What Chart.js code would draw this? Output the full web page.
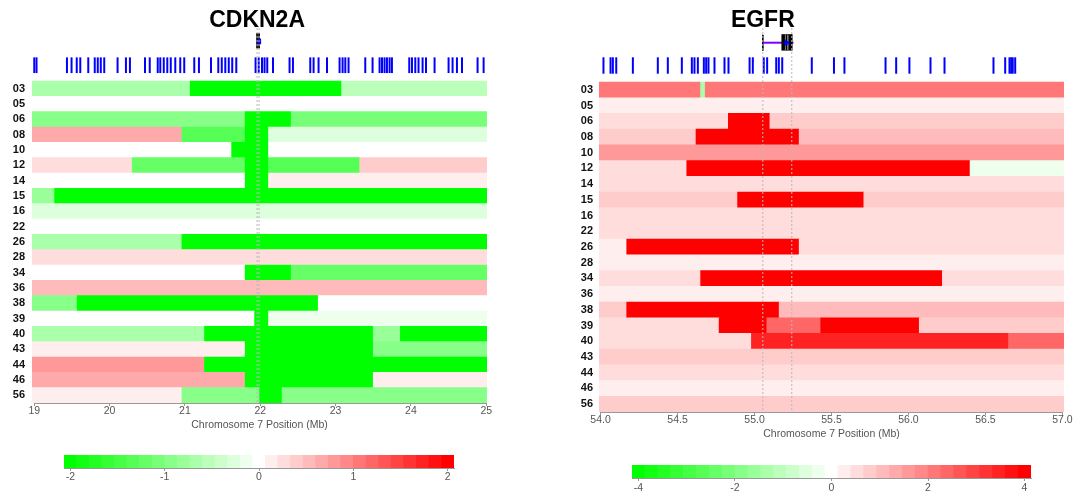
<!DOCTYPE html>
<html>
<head>
<meta charset="utf-8">
<script src="https://cdn.jsdelivr.net/npm/chart.js@4.4.1/dist/chart.umd.min.js"></script>
<style>
  html, body { margin: 0; padding: 0; background: #fff; }
  body { width: 1074px; height: 494px; position: relative; overflow: hidden; }
  canvas { position: absolute; }
</style>
</head>
<body>
<canvas id="cdknMap" width="537" height="440" style="left:0;top:0"></canvas>
<canvas id="egfrMap" width="537" height="450" style="left:537px;top:0"></canvas>
<canvas id="cdknKey" width="537" height="54" style="left:0;top:440px"></canvas>
<canvas id="egfrKey" width="537" height="44" style="left:537px;top:450px"></canvas>
<script>
// ---- data -----------------------------------------------------------------
const samples = ['03','05','06','08','10','12','14','15','16','22','26','28',
                 '34','36','38','39','40','43','44','46','56'];

// copy-number segments: [sample, start Mb, end Mb, log2 ratio]
const cdkn2aSegments = [
  ['03', 18.97, 21.07, -0.63], ['03', 21.07, 23.08, -2.1], ['03', 23.08, 25.01, -0.6],
  ['05', 18.97, 25.01, 0],
  ['06', 18.97, 21.80, -1.0], ['06', 21.80, 22.41, -2.1], ['06', 22.41, 25.01, -1.05],
  ['08', 18.97, 20.96, 0.67], ['08', 20.96, 21.80, -1.3], ['08', 21.80, 22.11, -2.1], ['08', 22.11, 25.01, -0.33],
  ['10', 18.97, 21.62, 0], ['10', 21.62, 22.11, -2.1], ['10', 22.11, 25.01, 0],
  ['12', 18.97, 20.30, 0.33], ['12', 20.30, 21.80, -1.2], ['12', 21.80, 22.11, -2.1], ['12', 22.11, 23.32, -1.4], ['12', 23.32, 25.01, 0.4],
  ['14', 18.97, 21.80, 0], ['14', 21.80, 22.11, -2.1], ['14', 22.11, 25.01, 0.1],
  ['15', 18.97, 19.27, -0.75], ['15', 19.27, 25.01, -2.1],
  ['16', 18.97, 25.01, -0.25],
  ['22', 18.97, 25.01, 0],
  ['26', 18.97, 20.96, -0.65], ['26', 20.96, 25.01, -2.1],
  ['28', 18.97, 25.01, 0.25],
  ['34', 18.97, 21.80, 0], ['34', 21.80, 22.41, -2.1], ['34', 22.41, 25.01, -1.2],
  ['36', 18.97, 25.01, 0.5],
  ['38', 18.97, 19.57, -0.87], ['38', 19.57, 22.77, -2.1], ['38', 22.77, 25.01, 0],
  ['39', 18.97, 21.925, 0], ['39', 21.925, 22.11, -2.1], ['39', 22.11, 25.01, -0.1],
  ['40', 18.97, 21.26, -0.65], ['40', 21.26, 23.50, -2.1], ['40', 23.50, 23.86, -0.8], ['40', 23.86, 25.01, -2.1],
  ['43', 18.97, 21.80, 0.17], ['43', 21.80, 23.50, -2.1], ['43', 23.50, 25.01, -0.87],
  ['44', 18.97, 21.26, 0.75], ['44', 21.26, 25.01, -2.1],
  ['46', 18.97, 21.80, 0.67], ['46', 21.80, 23.50, -2.1], ['46', 23.50, 25.01, 0.1],
  ['56', 18.97, 20.96, 0.1], ['56', 20.96, 21.99, -1.0], ['56', 21.99, 22.29, -2.1], ['56', 22.29, 25.01, -1.0]
];

const egfrSegments = [
  ['03', 53.99, 54.65, 2.13], ['03', 54.65, 54.68, -1.33], ['03', 54.68, 57.01, 2.2],
  ['05', 53.99, 57.01, 0.3],
  ['06', 53.99, 54.83, 0.6], ['06', 54.83, 55.10, 4.1], ['06', 55.10, 57.01, 0.8],
  ['08', 53.99, 54.62, 0.93], ['08', 54.62, 55.29, 4.1], ['08', 55.29, 57.01, 1.0],
  ['10', 53.99, 57.01, 1.55],
  ['12', 53.99, 54.56, 0.5], ['12', 54.56, 56.40, 4.1], ['12', 56.40, 57.01, -0.25],
  ['14', 53.99, 57.01, 0.5],
  ['15', 53.99, 54.89, 0.8], ['15', 54.89, 55.71, 4.1], ['15', 55.71, 57.01, 0.8],
  ['16', 53.99, 57.01, 0.6],
  ['22', 53.99, 57.01, 0.5],
  ['26', 53.99, 54.17, 0.2], ['26', 54.17, 55.29, 4.1], ['26', 55.29, 57.01, 0.5],
  ['28', 53.99, 57.01, 0.2],
  ['34', 53.99, 54.65, 0.6], ['34', 54.65, 56.22, 4.1], ['34', 56.22, 57.01, 0.6],
  ['36', 53.99, 57.01, 0.35],
  ['38', 53.99, 54.17, 0.8], ['38', 54.17, 55.16, 4.1], ['38', 55.16, 57.01, 1.0],
  ['39', 53.99, 54.77, 0.65], ['39', 54.77, 55.08, 4.1], ['39', 55.08, 55.43, 2.4], ['39', 55.43, 56.07, 4.1], ['39', 56.07, 57.01, 0.8],
  ['40', 53.99, 54.98, 0.65], ['40', 54.98, 56.65, 3.55], ['40', 56.65, 57.01, 2.4],
  ['43', 53.99, 57.01, 0.8],
  ['44', 53.99, 57.01, 0.65],
  ['46', 53.99, 57.01, 0.2],
  ['56', 53.99, 57.01, 0.8]
];

// gene positions (Mb) in the annotation track
const cdkn2aGenes = [
  19.000, 19.030, 19.434, 19.495, 19.564, 19.611, 19.717, 19.803, 19.843, 19.883,
  19.929, 20.106, 20.217, 20.270, 20.470, 20.533, 20.639, 20.673, 20.719, 20.766,
  20.812, 20.872, 20.938, 20.991, 21.124, 21.186, 21.346, 21.443, 21.489, 21.536,
  21.582, 21.628, 21.682, 21.938, 21.980, 22.023, 22.057, 22.093, 22.169, 22.389,
  22.434, 22.664, 22.708, 22.774, 22.886, 23.053, 23.093, 23.129, 23.172, 23.394,
  23.491, 23.584, 23.616, 23.650, 23.682, 23.717, 23.748, 23.978, 24.014, 24.058,
  24.101, 24.155, 24.200, 24.314, 24.500, 24.553, 24.611, 24.678, 24.885, 24.965
];
const egfrGenes = [
  54.019, 54.065, 54.080, 54.102, 54.210, 54.372, 54.437, 54.528, 54.593, 54.610,
  54.632, 54.671, 54.686, 54.701, 54.740, 54.805, 54.831, 54.968, 54.989, 55.060,
  55.082, 55.141, 55.158, 55.180, 55.372, 55.516, 55.584, 55.851, 55.920, 56.006,
  56.143, 56.234, 56.552, 56.628, 56.656, 56.667, 56.677, 56.693
];

// highlighted gene bounds (Mb)
const cdkn2aBounds = [21.958, 21.984];
const egfrBounds = [55.054, 55.242];
const egfrExonBlock = [55.177, 55.245];
const egfrExonGaps = [55.201, 55.216];

// axis ticks and colour keys
const cdkn2aAxisTicks = [19, 20, 21, 22, 23, 24, 25];
const egfrAxisTicks = [54.0, 54.5, 55.0, 55.5, 56.0, 56.5, 57.0];
const cdkn2aKeyTicks = [-2, -1, 0, 1, 2];
const egfrKeyTicks = [-4, -2, 0, 2, 4];
const cdkn2aKeyLimit = 2.067;
const egfrKeyLimit = 4.134;

// ---- helpers --------------------------------------------------------------
const BINS = 31, HALF = 15;
const FONT = '"Liberation Sans", Arial, Helvetica, sans-serif';
Chart.defaults.font.family = FONT;
Chart.defaults.animation = false;
Chart.defaults.events = [];

function binColor(k) {
  const c = Math.round(255 * (1 - Math.abs(k) / HALF));
  return k >= 0 ? `rgb(255,${c},${c})` : `rgb(${c},255,${c})`;
}
function valueColor(v, lim) {
  const w = 2 * lim / BINS;
  const k = Math.max(-HALF, Math.min(HALF, Math.round(v / w)));
  return binColor(k === 0 ? 0 : k);
}

const panelDecor = {
  id: 'panelDecor',
  afterDraw(chart, args, opts) {
    const { ctx, chartArea } = chart;
    const x = chart.scales.x;
    ctx.save();
    ctx.strokeStyle = '#999';
    ctx.lineWidth = 1;
    ctx.beginPath();
    ctx.moveTo(x.getPixelForValue(opts.axisFrom), chartArea.bottom + 0.5);
    ctx.lineTo(x.getPixelForValue(opts.axisTo), chartArea.bottom + 0.5);
    ctx.stroke();
    ctx.fillStyle = '#000';
    ctx.font = 'bold 23px ' + FONT;
    ctx.textAlign = 'center';
    ctx.textBaseline = 'alphabetic';
    ctx.fillText(opts.title, x.getPixelForValue(opts.titleAt), 26.5);
    ctx.restore();
  }
};

function vline(xv, y0, y1, color, width, dash, order) {
  return {
    type: 'line', data: [{ x: xv, y: y0 }, { x: xv, y: y1 }],
    borderColor: color, borderWidth: width, borderDash: dash || [],
    pointRadius: 0, fill: false, order
  };
}

function buildPanel(id, cfg) {
  const datasets = [];
  datasets.push({
    type: 'bar',
    data: cfg.segments.map(s => ({ x: [s[1], s[2]], y: samples.indexOf(s[0]) })),
    backgroundColor: cfg.segments.map(s => valueColor(s[3], cfg.keyLimit)),
    borderWidth: 0, order: 10
  });
  datasets.push({
    type: 'scatter',
    data: cfg.genes.map(g => ({ x: g, y: cfg.geneRowY })),
    pointStyle: 'line', rotation: 90, pointRadius: cfg.geneTickRadius,
    borderColor: '#0000ff', backgroundColor: '#0000ff', borderWidth: 2, order: 6
  });
  cfg.glyph(datasets);
  cfg.bounds.forEach(b => datasets.push(vline(b, cfg.yMin, 20.5, '#b8b8b8', 1, [2, 2], 1)));

  return new Chart(document.getElementById(id), {
    type: 'bar',
    data: { datasets },
    plugins: [panelDecor],
    options: {
      responsive: false,
      indexAxis: 'y',
      layout: { autoPadding: false, padding: { left: 0, right: cfg.padRight, top: 28, bottom: 0 } },
      datasets: { bar: { grouped: false, barPercentage: 1, categoryPercentage: 1 } },
      plugins: {
        legend: { display: false }, tooltip: { enabled: false },
        panelDecor: { title: cfg.title, titleAt: cfg.bounds[0], axisFrom: cfg.axisTicks[0], axisTo: cfg.axisTicks[cfg.axisTicks.length - 1] }
      },
      scales: {
        x: {
          type: 'linear', min: cfg.xMin, max: cfg.xMax, offset: false,
          afterBuildTicks: s => { s.ticks = cfg.axisTicks.map(v => ({ value: v })); },
          afterFit: s => { s.height = cfg.xAxisHeight; s.paddingLeft = 0; s.paddingRight = 0; },
          grid: { display: true, drawOnChartArea: false, drawTicks: true, tickLength: 3, color: '#999', offset: false },
          border: { display: false },
          ticks: { autoSkip: false, maxRotation: 0, padding: cfg.tickPad, color: '#555',
                   font: { size: 10.5 }, callback: v => cfg.tickFmt(v) },
          title: { display: true, text: 'Chromosome 7 Position (Mb)', color: '#555',
                   font: { size: 10.5 }, padding: { top: 0, bottom: cfg.titlePad } }
        },
        y: {
          type: 'linear', reverse: true, min: cfg.yMin, max: 20.5, offset: false,
          afterBuildTicks: s => { s.ticks = samples.map((_, i) => ({ value: i })); },
          afterFit: s => { s.width = cfg.yAxisWidth; s.paddingTop = 0; s.paddingBottom = 0; },
          grid: { display: false, drawTicks: false, offset: false },
          border: { display: false },
          ticks: { autoSkip: false, padding: cfg.labelPad, color: '#111',
                   font: { size: 11, weight: 'bold' }, callback: v => samples[v] }
        }
      }
    }
  });
}

function buildKey(id, cfg) {
  const w = 2 * cfg.limit / BINS;
  const data = [], colors = [];
  for (let k = -HALF; k <= HALF; k++) {
    data.push({ x: [(k - 0.5) * w, (k + 0.5) * w], y: 0 });
    colors.push(binColor(k));
  }
  return new Chart(document.getElementById(id), {
    type: 'bar',
    data: { datasets: [{ data, backgroundColor: colors, borderWidth: 0 }] },
    options: {
      responsive: false,
      indexAxis: 'y',
      layout: { autoPadding: false, padding: { left: cfg.padLeft, right: cfg.padRight, top: 15, bottom: 0 } },
      datasets: { bar: { grouped: false, barPercentage: 1, categoryPercentage: 1 } },
      plugins: { legend: { display: false }, tooltip: { enabled: false } },
      scales: {
        x: {
          type: 'linear', min: -cfg.limit, max: cfg.limit, offset: false,
          afterBuildTicks: s => { s.ticks = cfg.ticks.map(v => ({ value: v })); },
          afterFit: s => { s.height = cfg.axisHeight; s.paddingLeft = 0; s.paddingRight = 0; },
          grid: { display: true, drawOnChartArea: false, drawTicks: true, tickLength: 3, color: '#999', offset: false },
          border: { display: true, color: '#999' },
          ticks: { autoSkip: false, maxRotation: 0, padding: cfg.tickPad, color: '#555', font: { size: 10.5 } }
        },
        y: {
          type: 'linear', display: false, min: -0.5, max: 0.5, offset: false,
          afterBuildTicks: s => { s.ticks = [{ value: 0 }]; }
        }
      }
    }
  });
}

// ---- CDKN2A panel -----------------------------------------------------------
buildPanel('cdknMap', {
  title: 'CDKN2A', segments: cdkn2aSegments, genes: cdkn2aGenes, bounds: cdkn2aBounds,
  keyLimit: cdkn2aKeyLimit, axisTicks: cdkn2aAxisTicks, tickFmt: v => String(v),
  xMin: 18.97, xMax: 25.01, yMin: -3.957, geneRowY: -1.53, geneTickRadius: 7.85,
  padRight: 50, yAxisWidth: 32, xAxisHeight: 37, labelPad: 7, tickPad: -1.5, titlePad: 8.7,
  glyph: ds => {
    const gy = -3.08;
    cdkn2aBounds.forEach(b => ds.push(vline(b, gy - 0.55, gy + 0.45, '#000', 1, null, 7)));
    ds.push({ type: 'line', data: [{ x: cdkn2aBounds[0], y: gy }, { x: cdkn2aBounds[1], y: gy }],
              borderColor: '#000', borderWidth: 1, pointRadius: 0, order: 7 });
    ds.push({ type: 'scatter', data: [{ x: 21.985, y: gy }], pointStyle: 'triangle', rotation: 270,
              pointRadius: 3, backgroundColor: '#0000ff', borderColor: '#0000ff', borderWidth: 1, order: 5 });
  }
});

// ---- EGFR panel -----------------------------------------------------------
buildPanel('egfrMap', {
  title: 'EGFR', segments: egfrSegments, genes: egfrGenes, bounds: egfrBounds,
  keyLimit: egfrKeyLimit, axisTicks: egfrAxisTicks, tickFmt: v => v.toFixed(1),
  xMin: 53.99, xMax: 57.01, yMin: -3.936, geneRowY: -1.55, geneTickRadius: 8.2,
  padRight: 10, yAxisWidth: 62, xAxisHeight: 38, labelPad: 6, tickPad: -1.3, titlePad: 9.7,
  glyph: ds => {
    const gy = -3.0;
    ds.push({ type: 'line', data: [{ x: egfrBounds[0], y: gy }, { x: 55.253, y: gy }],
              borderColor: '#8000ff', borderWidth: 2, pointRadius: 0, order: 9 });
    ds.push(vline(egfrBounds[0], gy - 0.5, gy + 0.5, '#000', 1, null, 9));
    ds.push({ type: 'bar', data: [{ x: egfrExonBlock, y: gy - 0.02 }], backgroundColor: '#000',
              borderWidth: 0, order: 8 });
    egfrExonGaps.forEach(g => ds.push(vline(g, gy - 0.5, gy + 0.48, '#777', 1, null, 7)));
    ds.push({ type: 'scatter', data: [{ x: 55.209, y: gy }], pointStyle: 'triangle', rotation: 90,
              pointRadius: 3, backgroundColor: '#0000ff', borderColor: '#0000ff', borderWidth: 1, order: 5 });
  }
});

// ---- colour keys ----------------------------------------------------------
buildKey('cdknKey', { limit: cdkn2aKeyLimit, ticks: cdkn2aKeyTicks, padLeft: 64, padRight: 83,
                      axisHeight: 26, tickPad: -0.6 });
buildKey('egfrKey', { limit: egfrKeyLimit, ticks: egfrKeyTicks, padLeft: 95, padRight: 43,
                      axisHeight: 16, tickPad: 0.7 });
</script>
</body>
</html>
